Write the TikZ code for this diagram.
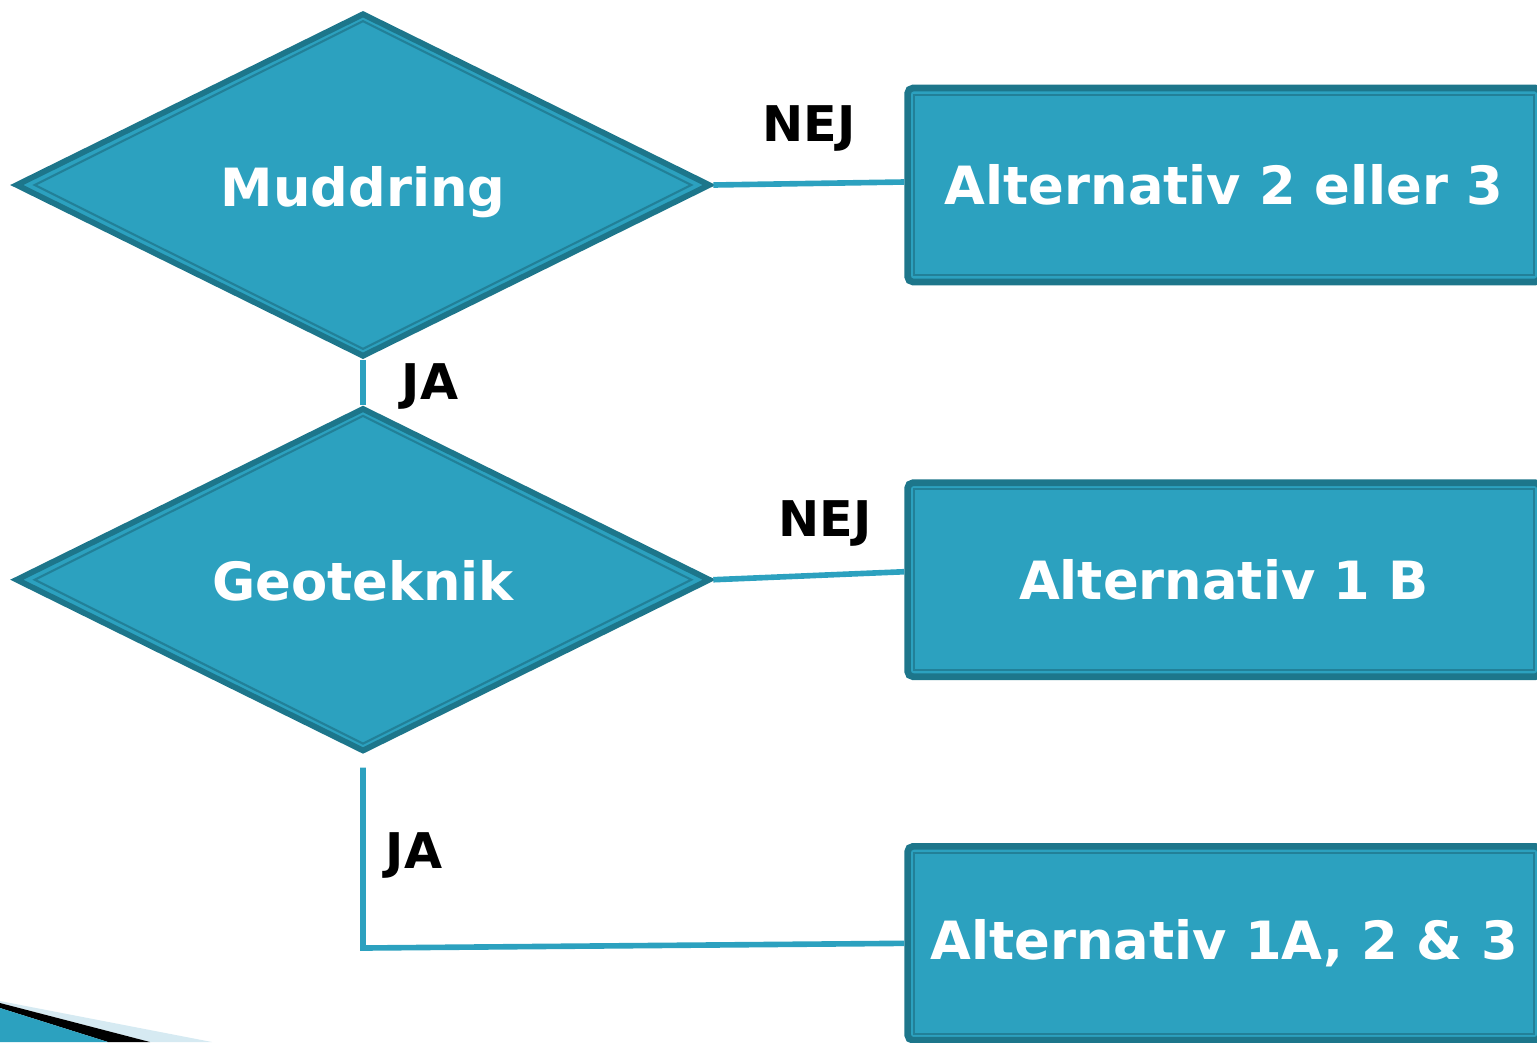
\documentclass[tikz,border=0pt]{standalone}
\usepackage{fontspec}
\setmainfont{DejaVu Sans}
\usetikzlibrary{positioning,shapes.geometric}
\definecolor{kfill}{RGB}{44,161,191}
\definecolor{kedge}{RGB}{29,118,139}
\definecolor{kinner}{RGB}{34,128,152}
\definecolor{kpale}{RGB}{214,234,242}

\begin{document}
\begin{tikzpicture} %
		[
			x=0.02cm, y=-0.02cm,
			font={\bfseries},
			decision/.style={
				diamond,
				aspect=2,
				draw=kedge,
				fill=kfill,
				line width=3.3pt,
				inner sep=0,
				minimum width=13.9cm,
				minimum height=6.88cm,
				text height=30pt, text depth=6pt,
				text=white,
				font={\fontsize{30}{36}\selectfont\bfseries},
			},
			alt/.style={
				rectangle,
				draw=kedge,
				fill=kfill,
				line width=3.8pt,
				rounded corners=3pt,
				minimum width=12.66cm,
				minimum height=3.88cm,
				text=white,
				font={\fontsize{30}{36}\selectfont\bfseries},
			},
			rim/.style={draw=kinner, line width=1.2pt},
			link/.style={draw=kfill, line width=3.2pt},
			answer/.style={font={\fontsize{28}{34}\selectfont\bfseries}, inner sep=0, midway},
		]
		\useasboundingbox (0,0) rectangle (1537,1042);
		\clip (0,0) rectangle (1537,1042);
		
		\node[decision] (mud) at (363,185) {Muddring};
		\node[decision, below =0.9cm of mud] (geo) {Geoteknik};
		\node[alt, right =3.82cm of mud] (alt23) {Alternativ 2 eller 3};
		\node[alt, right =3.82cm of geo] (alt1b) {Alternativ 1 B};
		\node[alt, below =3.26cm of alt1b] (alt123) {Alternativ 1A, 2 \& 3};
		\coordinate (elbow) at (363,948);
		
		% thin inner lines
		\foreach \n in {mud,geo}
			\draw[rim] ([shift={(0,11)}]\n.north) -- ([shift={(-22,0)}]\n.east)
				-- ([shift={(0,-11)}]\n.south) -- ([shift={(22,0)}]\n.west) -- cycle;
		\foreach \n in {alt23,alt1b,alt123}
			\draw[rim] ([shift={(10,10)}]\n.north west) rectangle ([shift={(-10,-10)}]\n.south east);
		
		\draw[link] 
			(mud.east) 
			-- node[answer,above=0.58cm]{NEJ} 
			([yshift=0.06cm]alt23.west);
		\draw[link] 
			(mud.south) 
			-- node[answer,right=0.72cm,yshift=-0.08cm]{JA} 
			(geo.north);
		\draw[link] 
			(geo.east) 
			-- node[answer,above=0.54cm,xshift=0.32cm]{NEJ} 
			([yshift=0.16cm]alt1b.west);
		\draw[link] 
			([yshift=-0.26cm]geo.south) 
			-- node[answer,right=0.4cm,yshift=0.04cm]{JA} 
			(elbow) 
			-- (alt123.west);
		
		% bullet corner
		\fill[kpale] (0,1001) -- (212,1042) -- (150,1042) -- (0,1003) -- cycle;
		\fill[black] (0,1003) -- (150,1042) -- (108,1042) -- (0,1008) -- cycle;
		\fill[kfill] (0,1008) -- (108,1042) -- (0,1042) -- cycle;
	\end{tikzpicture}
\end{document}
